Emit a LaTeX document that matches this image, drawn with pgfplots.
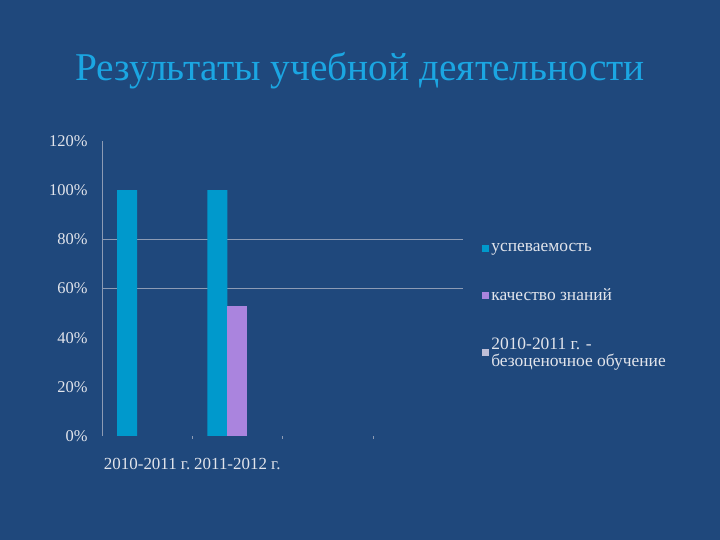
\documentclass[border=0pt]{standalone}
\usepackage{fontspec}
\setmainfont{Liberation Serif}
\usepackage{pgfplots}
\pgfplotsset{compat=1.18}

\definecolor{bg}{RGB}{31,72,124}
\definecolor{titleblue}{RGB}{27,166,226}
\definecolor{barblue}{RGB}{0,153,204}
\definecolor{barpurple}{RGB}{170,132,222}
\definecolor{barlav}{RGB}{190,190,215}
\definecolor{txt}{RGB}{225,228,235}
\definecolor{gridc}{RGB}{140,155,180}

\begin{document}
\begin{tikzpicture}[x=1bp,y=1bp]
\fill[bg] (0,0) rectangle (720,540);
\node[font=\fontsize{39.5}{44}\selectfont, text=titleblue] at (360,469) {Результаты учебной деятельности};
\begin{axis}[
    at={(102bp,104bp)}, anchor=south west,
    width=361bp, height=295bp, scale only axis,
    xmin=-0.5, xmax=3.5, ymin=0, ymax=120,
    ybar=0pt, bar width=20bp,
    axis lines*=left,
    x axis line style={draw=none},
    y axis line style={draw=gridc},
    % category boundaries
    xtick={0.5,1.5,2.5}, xticklabels={},
    major tick length=3bp, tick align=outside,
    x tick style={draw=gridc},
    extra x ticks={0,1},
    extra x tick labels={2010-2011 г., 2011-2012 г.},
    extra x tick style={major tick length=0pt,
        xticklabel style={font=\fontsize{17}{19}\selectfont, text=txt, yshift=-19bp}},
    ytick={0,20,...,120},
    yticklabel={\pgfmathprintnumber{\tick}\%},
    y tick style={draw=none},
    yticklabel style={font=\fontsize{16.5}{18}\selectfont, text=txt, xshift=-8bp},
    /pgf/number format/assume math mode=true,
    extra y ticks={60,80}, extra y tick labels={},
    extra y tick style={grid=major, major grid style={draw=gridc, line width=0.8bp}},
    legend image code/.code={\fill[#1] (0bp,-3.5bp) rectangle (7bp,3.5bp);},
    legend cell align=left,
    legend style={draw=none, fill=none, at={(1.053,0.66)}, anchor=north west,
        inner sep=0pt, row sep=31.5bp, text=txt,
        font=\fontsize{17.5}{17.5}\selectfont,
        nodes={align=left}},
]
\addplot[fill=barblue, draw=none, bar shift=-20bp] coordinates {(0,100) (1,100)};
\addlegendentry{успеваемость}
\addplot[fill=barpurple, draw=none, bar shift=0bp] coordinates {(1,53)};
\addlegendentry{качество знаний}
\addlegendimage{fill=barlav, draw=none}
\addlegendentry{2010-2011 г. -\\безоценочное обучение}
\end{axis}
\end{tikzpicture}
\end{document}
